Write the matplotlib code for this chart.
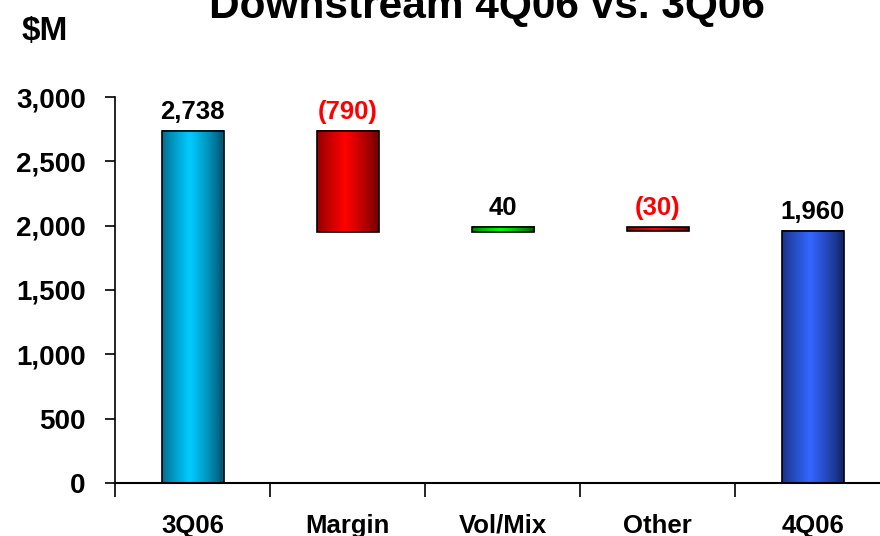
import numpy as np
import matplotlib
matplotlib.use('Agg')
import matplotlib.pyplot as plt
from matplotlib.colors import LinearSegmentedColormap

plt.rcParams['font.family'] = ['Liberation Sans', 'DejaVu Sans']
plt.rcParams['font.weight'] = 'bold'

# waterfall data ($M)
categories = ['3Q06', 'Margin', 'Vol/Mix', 'Other', '4Q06']
start_value = 2738
deltas = [-790, 40, -30]
end_value = 1960
value_labels = ['2,738', '(790)', '40', '(30)', '1,960']
label_colors = ['black', 'red', 'black', 'red', 'black']
# (edge colour, centre colour) for the shaded bars
bar_shades = [('#005a78', '#00ccff'), ('#7a0000', '#ff0000'), ('#006600', '#00ff00'),
              ('#7a0000', '#ff0000'), ('#14286e', '#3366ff')]

# bottoms / tops of every bar
tops = [start_value]
bottoms = [0]
level = start_value
for d in deltas:
    new = level + d
    bottoms.append(min(level, new))
    tops.append(max(level, new))
    level = new
bottoms.append(0)
tops.append(end_value)

fig = plt.figure(figsize=(8.8, 5.36), dpi=100)
ax = fig.add_axes([115 / 880, 53 / 536, 775 / 880, 386 / 536])

x = np.arange(len(categories))
width = 0.4
prof = np.linspace(0, 1, 256)
prof = np.clip(1 - np.abs(prof - 0.45) / 0.5, 0, 1) ** 0.8
grad = np.vstack([prof, prof])
for i in range(len(categories)):
    cmap = LinearSegmentedColormap.from_list('s%d' % i, list(bar_shades[i]))
    ax.imshow(grad, cmap=cmap, aspect='auto', interpolation='bilinear',
              extent=(x[i] - width / 2, x[i] + width / 2, bottoms[i], tops[i]), zorder=2)
    ax.bar(x[i], tops[i] - bottoms[i], width, bottom=bottoms[i], fill=False,
           edgecolor='black', linewidth=1.2, zorder=3)
    ax.text(x[i], tops[i] + 55, value_labels[i], ha='center', va='bottom',
            fontsize=18.5, fontweight='bold', color=label_colors[i])

ax.set_xlim(-0.5, 4.5)
ax.set_ylim(0, 3000)
ax.set_yticks(np.arange(0, 3001, 500))
ax.set_yticklabels(['{:,}'.format(v) for v in range(0, 3001, 500)], fontsize=20, fontweight='bold')
ax.set_xticks(np.arange(-0.5, 4, 1))
ax.set_xticklabels([])
ax.set_xticks(x, minor=True)
ax.set_xticklabels(categories, minor=True, fontsize=18.5, fontweight='bold')
ax.tick_params(axis='x', which='major', direction='out', length=10, width=1.2)
ax.tick_params(axis='x', which='minor', length=0, pad=22)
ax.tick_params(axis='y', direction='out', length=7, width=1.2, pad=14)
ax.spines['top'].set_visible(False)
ax.spines['right'].set_visible(False)
ax.spines['left'].set_linewidth(1.2)
ax.spines['bottom'].set_linewidth(1.5)

# title sits partly above the top edge, as in the source slide
fig.text(487 / 880, 1 - 18 / 536, 'Downstream 4Q06 vs. 3Q06', ha='center', va='baseline',
         fontsize=30.5, fontweight='bold')
fig.text(22 / 880, 1 - 40 / 536, '$M', ha='left', va='baseline', fontsize=24, fontweight='bold')

fig.savefig('out.png', dpi=100)
